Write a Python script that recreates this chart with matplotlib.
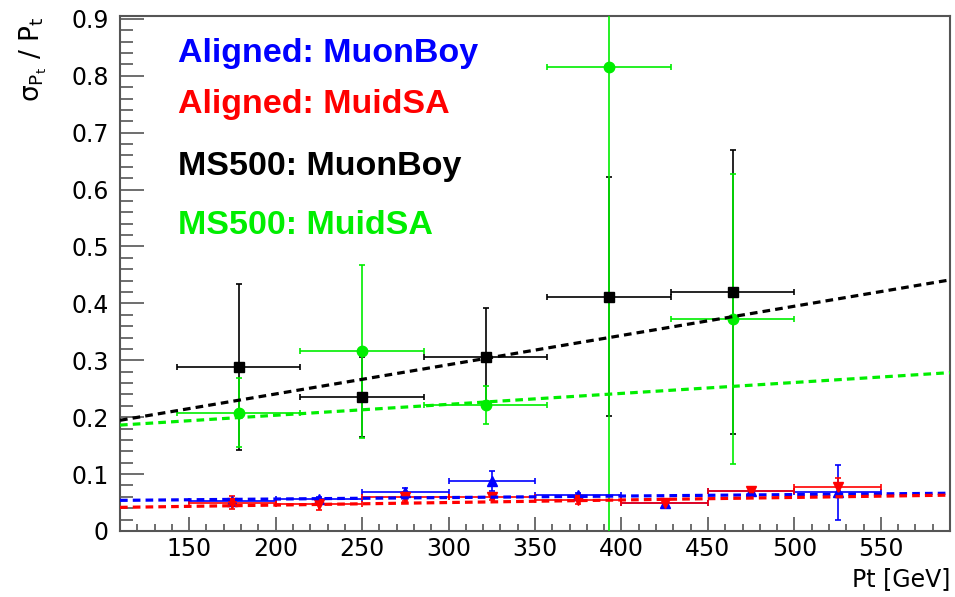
import numpy as np
import matplotlib
matplotlib.use('Agg')
import matplotlib.pyplot as plt
from matplotlib.ticker import MultipleLocator

plt.rcParams['font.family'] = ['DejaVu Sans']
plt.rcParams['mathtext.fontset'] = 'dejavusans'

# MS500 samples: 7 bins of width 500/7 starting at 1000/7
ms_pt = [178.6, 250.0, 321.4, 392.9, 464.3]
ms_pt_err = [35.7, 35.7, 35.7, 35.7, 35.7]
ms_boy = [0.288, 0.236, 0.305, 0.412, 0.420]
ms_boy_err = [0.146, 0.070, 0.087, 0.210, 0.250]
ms_sa = [0.208, 0.316, 0.221, 0.816, 0.372]
ms_sa_err = [0.060, 0.152, 0.033, 0.900, 0.255]

# aligned samples: 50 GeV bins from 150 to 550
al_pt = [175, 225, 275, 325, 375, 425, 475, 525]
al_pt_err = [25, 25, 25, 25, 25, 25, 25, 25]
al_boy = [0.053, 0.056, 0.069, 0.088, 0.063, 0.050, 0.070, 0.068]
al_boy_err = [0.004, 0.004, 0.007, 0.018, 0.004, 0.004, 0.004, 0.048]
al_sa = [0.050, 0.047, 0.060, 0.060, 0.054, 0.050, 0.070, 0.078]
al_sa_err = [0.012, 0.010, 0.008, 0.005, 0.006, 0.004, 0.004, 0.015]

# linear fits: (intercept, slope)
fit_ms_boy = (0.138, 0.000514)
fit_ms_sa = (0.165, 0.000192)
fit_al_boy = (0.051, 0.000026)
fit_al_sa = (0.0366, 0.0000448)

labels = ['Aligned: MuonBoy', 'Aligned: MuidSA', 'MS500: MuonBoy', 'MS500: MuidSA']
colors = ['#0000ff', '#ff0000', '#000000', '#00ee00']

xlo, xhi = 110, 590

fig = plt.figure(figsize=(9.55, 5.97), dpi=100)
ax = fig.add_axes([120 / 955, 1 - 531 / 597, 830 / 955, 515 / 597])

series = [
    (ms_pt, ms_boy, ms_pt_err, ms_boy_err, colors[2], 's', 7),
    (ms_pt, ms_sa, ms_pt_err, ms_sa_err, colors[3], 'o', 7.5),
    (al_pt, al_boy, al_pt_err, al_boy_err, colors[0], '^', 7),
    (al_pt, al_sa, al_pt_err, al_sa_err, colors[1], 'v', 7.5),
]
for x, y, xe, ye, c, m, ms in series:
    ax.errorbar(x, y, xerr=xe, yerr=ye, fmt=m, color=c, ms=ms, mec=c,
                elinewidth=1.2, capsize=2.5, capthick=1.2, zorder=3)

xf = np.array([xlo, xhi])
for (b, a), c in zip([fit_ms_boy, fit_ms_sa, fit_al_boy, fit_al_sa],
                     [colors[2], colors[3], colors[0], colors[1]]):
    ax.plot(xf, b + a * xf, color=c, lw=2.3, ls=(0, (2.4, 1.6)), zorder=4)

ys = [0.911, 0.812, 0.691, 0.577]
for lab, c, yy in zip(labels, colors, ys):
    ax.text(0.07, yy, lab, color=c, fontsize=24.5, fontweight='bold',
            family='Liberation Sans', transform=ax.transAxes,
            va='baseline', ha='left')

ax.set_xlim(xlo, xhi)
ax.set_ylim(0, 0.905)
ax.xaxis.set_major_locator(MultipleLocator(50))
ax.xaxis.set_minor_locator(MultipleLocator(10))
ax.yaxis.set_minor_locator(MultipleLocator(0.02))
ax.set_yticks(np.arange(0, 0.95, 0.1))
ax.set_yticklabels(['0'] + ['%.1f' % v for v in np.arange(0.1, 0.95, 0.1)])

ax.tick_params(which='both', direction='in', top=False, right=False,
               color='#555555', labelsize=17)
ax.tick_params(axis='x', which='major', length=10, width=1.2, pad=4)
ax.tick_params(axis='x', which='minor', length=5, width=1.2)
ax.tick_params(axis='y', which='major', length=17, width=1.2, pad=8)
ax.tick_params(axis='y', which='minor', length=9, width=1.2)
for s in ax.spines.values():
    s.set_color('#555555')
    s.set_linewidth(1.5)

ax.set_xlabel('Pt [GeV]', fontsize=17, loc='right')
ax.xaxis.set_label_coords(1.0, -0.07)
ax.xaxis.label.set_va('top')
ax.set_ylabel(r'$\mathrm{\sigma_{P_{t}}\ /\ P_{t}}$', fontsize=19, loc='top')
ax.yaxis.set_label_coords(-0.086, 1.0)

fig.savefig('out.png', dpi=100)
